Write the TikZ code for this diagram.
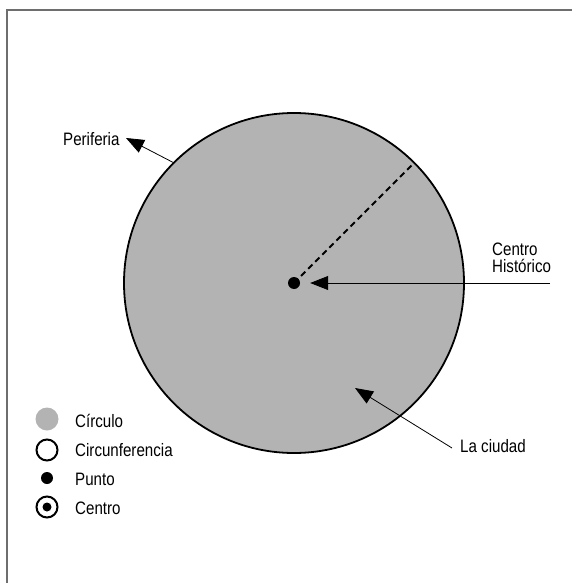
\documentclass[tikz,border=0pt]{standalone}
\usepackage{fontspec}
\setmainfont{Liberation Sans}[FakeStretch=0.84]
\usetikzlibrary{arrows.meta}
\definecolor{ciudadgris}{RGB}{179,179,179}
\definecolor{marcogris}{RGB}{110,110,110}
\tikzset{
  etiqueta/.style={font=\fontsize{18}{17}\selectfont, inner sep=0pt},
  flecha/.style={-{Triangle[length=18pt,width=14pt]}, line width=0.8pt},
}
\begin{document}
\begin{tikzpicture}[x=1pt,y=-1pt]
        \useasboundingbox (0,0) rectangle (572,583);
        % frame
        \draw[marcogris, line width=2pt] (7,583) -- (7,10) -- (572,10);
        % city
        \coordinate (c) at (294,283);
        \fill[ciudadgris] (c) circle (170);
        \draw[line width=1.8pt] (c) circle (170);
        \coordinate (bordeNE) at (414.2,162.8);
        \coordinate (bordeNO) at (173.8,162.8);
        \draw[line width=1.8pt, dash pattern=on 6pt off 4pt] (c) -- (bordeNE);
        \node[circle, fill=black, inner sep=0pt, minimum size=12pt] (centro) at (c) {};
        % text
        \node[etiqueta, anchor=base west] (periferia) at (63,145) {Periferia};
        \node[etiqueta, anchor=north west, align=left] (historico) at (492,243) {Centro\\Histórico};
        \node[etiqueta, anchor=base west] (ciudad) at (460,452) {La ciudad};
        % arrows
        \coordinate (periferiaTip) at (126,138);
        \coordinate (historicoCola) at (550,283);
        \coordinate (ciudadTip) at (355,388);
        \coordinate (ciudadCola) at (452,448);
        \draw[flecha] (bordeNO) -- (periferiaTip);
        \draw[flecha, shorten >=10pt] (historicoCola) -- (centro.east);
        \draw[flecha] (ciudadCola) -- (ciudadTip);
        % legend
        \fill[ciudadgris] (47,419) circle (11.5);
        \draw[line width=2pt] (47,450) circle (10.5);
        \fill (47,478) circle (6);
        \draw[line width=2pt] (47,507) circle (10.5);
        \fill (47,507) circle (4.5);
        \node[etiqueta, anchor=base west] (leyCirculo) at (75,427) {Círculo};
        \node[etiqueta, anchor=base west] (leyCircunferencia) at (75,456) {Circunferencia};
        \node[etiqueta, anchor=base west] (leyPunto) at (75,485) {Punto};
        \node[etiqueta, anchor=base west] (leyCentro) at (75,514) {Centro};
\end{tikzpicture}
\end{document}
